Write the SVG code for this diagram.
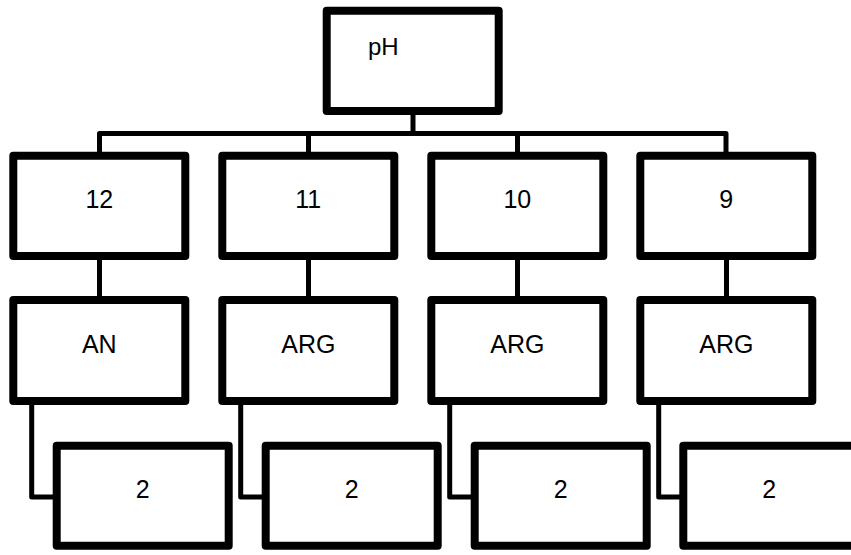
<svg xmlns="http://www.w3.org/2000/svg" width="851" height="555" viewBox="0 0 851 555">
<style>
.box{fill:#fff;stroke:#000;stroke-width:8;stroke-linejoin:round}
.con{fill:none;stroke:#000;stroke-width:5;stroke-linejoin:round}
.t{font-family:"Liberation Sans",Arial,sans-serif;font-size:25px;fill:#000;text-anchor:middle}
</style>
<rect width="851" height="555" fill="#fff"/>
<g id="connectors">
<path class="con" d="M413,115 V133.5"/>
<path class="con" d="M99.5,152 V133.5 H726 V152"/>
<path class="con" d="M308.5,152 V133.5"/>
<path class="con" d="M517.5,152 V133.5"/>
<path class="con" d="M99.5,260 V296"/>
<path class="con" d="M308.5,260 V296"/>
<path class="con" d="M517.5,260 V296"/>
<path class="con" d="M726.5,260 V296"/>
<path class="con" d="M31.7,405 V497 H53"/>
<path class="con" d="M240.7,405 V497 H262"/>
<path class="con" d="M449.7,405 V497 H471"/>
<path class="con" d="M658.7,405 V497 H680"/>
</g>
<g id="n-ph"><rect class="box" x="326.7" y="10.7" width="172" height="100.3"/><text x="368" y="55" style="font-family:'Liberation Sans',Arial,sans-serif;font-size:24px">pH</text></g>
<g id="n-12"><rect class="box" x="13.3" y="155.7" width="172" height="100.3"/><text class="t" x="99.3" y="208.3">12</text></g>
<g id="n-11"><rect class="box" x="222.3" y="155.7" width="172" height="100.3"/><text class="t" x="308.3" y="208.3">11</text></g>
<g id="n-10"><rect class="box" x="431.3" y="155.7" width="172" height="100.3"/><text class="t" x="517.3" y="208.3">10</text></g>
<g id="n-9"><rect class="box" x="640.3" y="155.7" width="172" height="100.3"/><text class="t" x="726.3" y="208.3">9</text></g>
<g id="n-an"><rect class="box" x="13.3" y="300" width="172" height="101"/><text class="t" x="99.3" y="353.3">AN</text></g>
<g id="n-arg1"><rect class="box" x="222.3" y="300" width="172" height="101"/><text class="t" x="308.3" y="353.3">ARG</text></g>
<g id="n-arg2"><rect class="box" x="431.3" y="300" width="172" height="101"/><text class="t" x="517.3" y="353.3">ARG</text></g>
<g id="n-arg3"><rect class="box" x="640.3" y="300" width="172" height="101"/><text class="t" x="726.3" y="353.3">ARG</text></g>
<g id="n-2a"><rect class="box" x="56.7" y="445.7" width="172" height="100"/><text class="t" x="142.7" y="498.3">2</text></g>
<g id="n-2b"><rect class="box" x="265.7" y="445.7" width="172" height="100"/><text class="t" x="351.7" y="498.3">2</text></g>
<g id="n-2c"><rect class="box" x="474.7" y="445.7" width="172" height="100"/><text class="t" x="560.7" y="498.3">2</text></g>
<g id="n-2d"><rect class="box" x="683.3" y="445.7" width="172" height="100"/><text class="t" x="769.3" y="498.3">2</text></g>
</svg>
